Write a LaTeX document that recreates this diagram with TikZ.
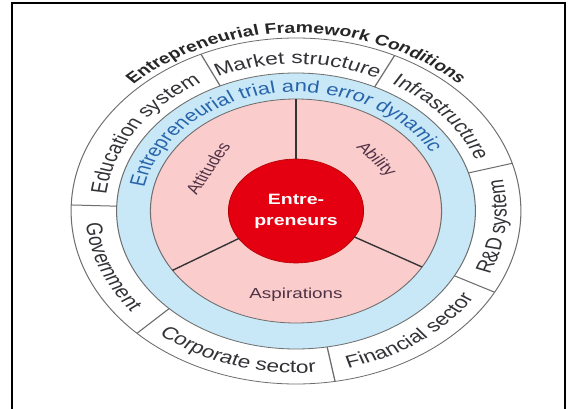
\documentclass[tikz,border=0pt]{standalone}
\usepackage{fontspec}
\setmainfont{Liberation Sans}
\usetikzlibrary{decorations.text}
\definecolor{pinkfill}{RGB}{250,204,204}
\definecolor{bluefill}{RGB}{200,232,247}
\definecolor{redfill}{RGB}{228,0,16}
\definecolor{ringtext}{RGB}{50,50,55}
\definecolor{bluetext}{RGB}{40,100,170}
\definecolor{pinktext}{RGB}{80,50,70}
\definecolor{edgegray}{RGB}{110,110,110}
\newcommand\ringfont{\fontsize{17.5}{17.5}\selectfont\color{ringtext}}
\newcommand\titlefont{\bfseries\fontsize{15}{15}\selectfont\color{black!85}}
\newcommand\dynfont{\fontsize{17}{17}\selectfont\color{bluetext}}
\tikzset{
  ringedge/.style={draw=edgegray, line width=0.8pt},
  divider/.style={draw=black!80, line width=1.3pt},
  pinklabel/.style={text=pinktext, font=\fontsize{14.5}{14.5}\selectfont, inner sep=0pt},
  arctext/.style={decorate, decoration={text along path, text align=center, text={#1}}}
}
\begin{document}
\begin{tikzpicture}[x=1pt,y=1pt]
\useasboundingbox (0,0) rectangle (571,408);
\draw[line width=2pt] (12,-5) -- (12,405) -- (565,405) -- (565,-5);
\begin{scope}[transform canvas={shift={(296pt,197pt)},xscale=1.3}]
  % rings
  \fill[white] (0,0) circle (173);
  \draw[ringedge] (0,0) circle (173);
  \fill[bluefill] (0,0) circle (138);
  \draw[ringedge] (0,0) circle (138);
  \fill[pinkfill] (0,0) circle (112);
  \draw[ringedge] (0,0) circle (112);
  % outer ring dividers
  \foreach \a in {64,16,-28,-80,225,178,115}
    \draw[ringedge, line width=1pt] (\a:138) -- (\a:173);
  % centre
  \node[circle, fill=redfill, draw=red!70!black, line width=0.6pt, minimum size=104pt, inner sep=0pt, outer sep=0pt,
        text=white, font=\bfseries\fontsize{15}{21}\selectfont, align=center] (ent) at (0,0) {Entre-\\preneurs};
  \coordinate (p1) at (90:112);
  \coordinate (p2) at (212:112);
  \coordinate (p3) at (330:112);
  \draw[divider] (ent.90) -- (p1);
  \draw[divider] (ent.212) -- (p2);
  \draw[divider] (ent.330) -- (p3);
  \node[pinklabel, rotate=62] (att) at (148:80) {Attitudes};
  \node[pinklabel, rotate=-50] (abl) at (40:80) {Ability};
  \node[pinklabel] (asp) at (270:84) {Aspirations};
  % blue ring text
  \path[arctext={|\dynfont|Entrepreneurial trial and error dynamic}] (175:119) arc[start angle=175, end angle=23, radius=119];
  % outer ring texts, clockwise (tops outward)
  \path[arctext={|\ringfont|Education system}] (178:147) arc[start angle=178, end angle=115, radius=147];
  \path[arctext={|\ringfont|Market structure}] (115:147) arc[start angle=115, end angle=64, radius=147];
  \path[arctext={|\ringfont|Infrastructure}] (64:147) arc[start angle=64, end angle=16, radius=147];
  % outer ring texts, counter-clockwise (tops inward)
  \path[arctext={|\ringfont|R{\&}D system}] (-28:162) arc[start angle=-28, end angle=16, radius=162];
  \path[arctext={|\ringfont|Financial sector}] (-80:162) arc[start angle=-80, end angle=-28, radius=162];
  \path[arctext={|\ringfont|Corporate sector}] (225:162) arc[start angle=225, end angle=280, radius=162];
  \path[arctext={|\ringfont|Government}] (178:162) arc[start angle=178, end angle=225, radius=162];
  % title
  \path[arctext={|\titlefont|Entrepreneurial Framework Conditions}] (140:178) arc[start angle=140, end angle=40, radius=178];
\end{scope}
\end{tikzpicture}
\end{document}
